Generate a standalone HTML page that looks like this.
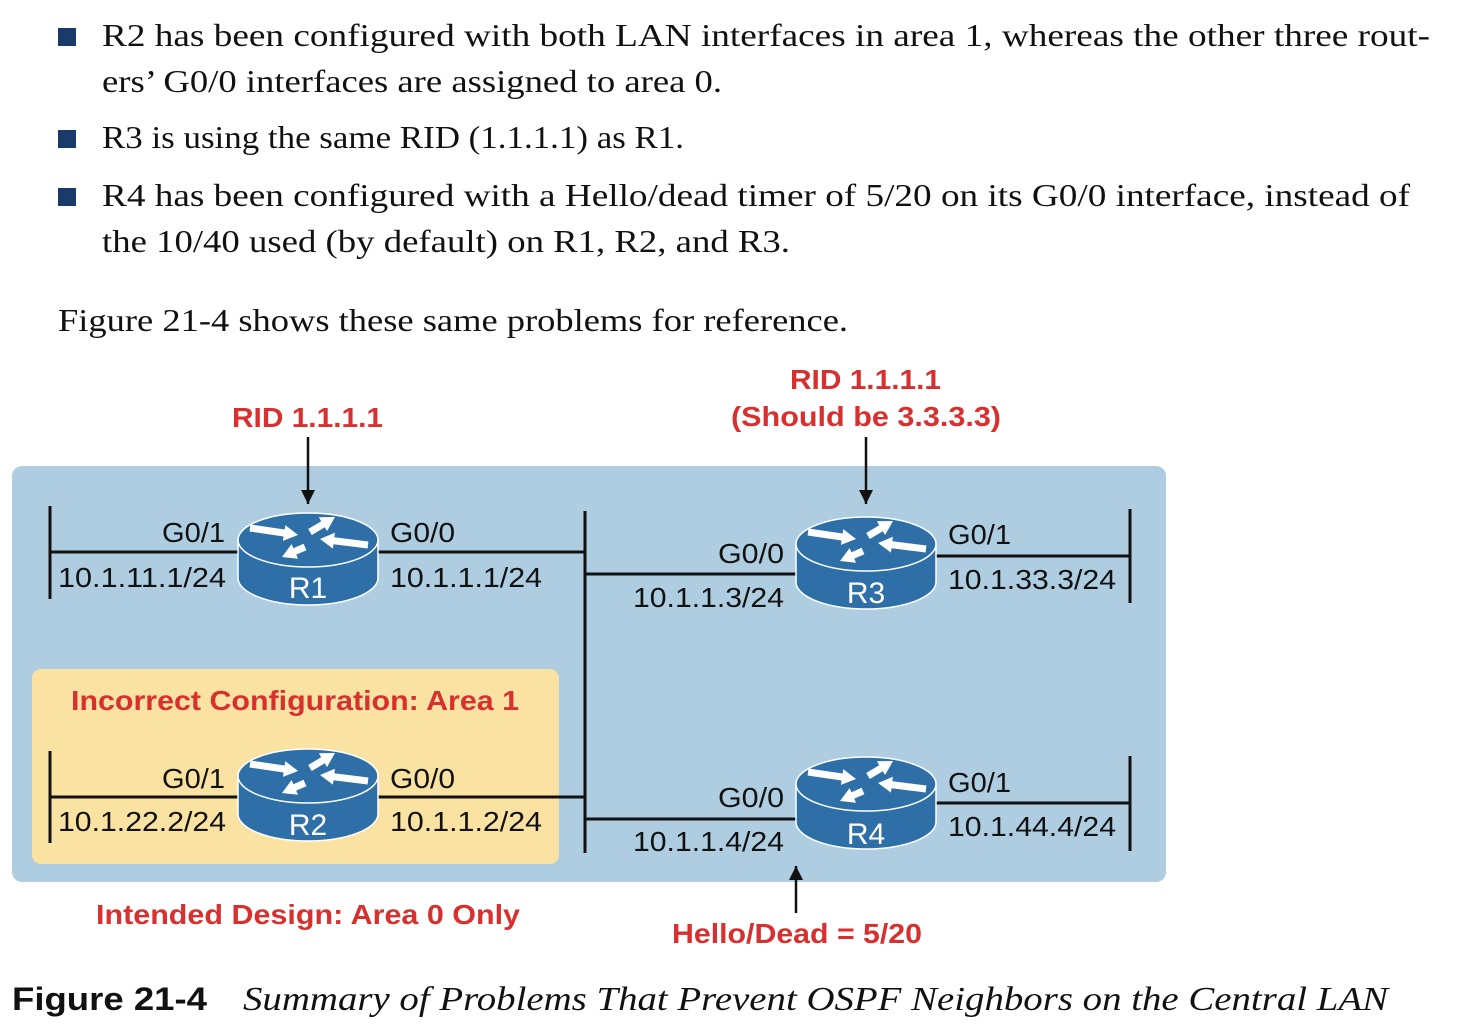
<!DOCTYPE html>
<html><head><meta charset="utf-8"><style>
html,body{margin:0;padding:0;background:#fff;}
svg{display:block}
.s{font-family:"Liberation Serif",serif;font-size:32px;fill:#111}
.a{font-family:"Liberation Sans",sans-serif;font-size:28px;fill:#111}
.r{font-family:"Liberation Sans",sans-serif;font-size:28px;font-weight:bold;fill:#d8302f}
.w{font-family:"Liberation Sans",sans-serif;font-size:30px;fill:#fff}
</style></head><body>
<svg width="1460" height="1034" viewBox="0 0 1460 1034" xmlns="http://www.w3.org/2000/svg">
<defs>
<g id="rt">
<path d="M-70,0 L-70,38 A70,27 0 0 0 70,38 L70,0 Z" fill="#2f6fa8" stroke="#fff" stroke-width="1.5"/>
<ellipse cx="0" cy="0" rx="70" ry="27" fill="#2f6fa8" stroke="#fff" stroke-width="1.5"/>
<polygon points="-58.5,-8.5 -24.4,-3.5 -25.1,0.9 -10,-5 -22.7,-14.9 -23.4,-10.5 -57.5,-15.5" fill="#fff"/>
<polygon points="3.8,-5 16.8,-12.8 19.1,-9 27,-23 10.9,-22.7 13.2,-18.8 0.2,-11" fill="#fff"/>
<polygon points="60.4,1.5 26.3,-2.8 26.9,-7.2 12,-1 24.9,8.6 25.5,4.2 59.6,8.5" fill="#fff"/>
<polygon points="-4.4,3.8 -14.6,8.2 -16.4,4.1 -26,17 -10,18.7 -11.8,14.6 -1.6,10.2" fill="#fff"/>
</g>
<marker id="ar" markerWidth="14" markerHeight="16" refX="14" refY="7" orient="auto" markerUnits="userSpaceOnUse" viewBox="0 0 14 14"><path d="M0,0 L14,7 L0,14 Z" fill="#111"/></marker>
</defs>
<rect x="58" y="28" width="18" height="18" fill="#1a3a6a"/>
<rect x="58" y="130" width="18" height="18" fill="#1a3a6a"/>
<rect x="58" y="188" width="18" height="18" fill="#1a3a6a"/>
<text class="s" x="102" y="46" textLength="1328" lengthAdjust="spacingAndGlyphs">R2 has been configured with both LAN interfaces in area 1, whereas the other three rout-</text>
<text class="s" x="102" y="92" textLength="620" lengthAdjust="spacingAndGlyphs">ers’ G0/0 interfaces are assigned to area 0.</text>
<text class="s" x="102" y="148" textLength="582" lengthAdjust="spacingAndGlyphs">R3 is using the same RID (1.1.1.1) as R1.</text>
<text class="s" x="102" y="206" textLength="1308" lengthAdjust="spacingAndGlyphs">R4 has been configured with a Hello/dead timer of 5/20 on its G0/0 interface, instead of</text>
<text class="s" x="102" y="252" textLength="688" lengthAdjust="spacingAndGlyphs">the 10/40 used (by default) on R1, R2, and R3.</text>
<text class="s" x="58" y="331" textLength="790" lengthAdjust="spacingAndGlyphs">Figure 21-4 shows these same problems for reference.</text>

<rect x="12" y="466" width="1154" height="416" rx="10" fill="#afcde1"/>
<rect x="32" y="669" width="527" height="195" rx="9" fill="#f9e2a2"/>

<g stroke="#111" stroke-width="3" fill="none">
<line x1="50" y1="552" x2="585" y2="552"/><line x1="50" y1="506" x2="50" y2="599"/>
<line x1="585" y1="511" x2="585" y2="853"/>
<line x1="585" y1="574" x2="866" y2="574"/><line x1="866" y1="556" x2="1130" y2="556"/><line x1="1130" y1="509" x2="1130" y2="603"/>
<line x1="50" y1="797" x2="585" y2="797"/><line x1="50" y1="751" x2="50" y2="843"/>
<line x1="585" y1="819" x2="866" y2="819"/><line x1="866" y1="803" x2="1130" y2="803"/><line x1="1130" y1="756" x2="1130" y2="851"/>
<line x1="308" y1="437" x2="308" y2="504" marker-end="url(#ar)" stroke-width="2.5"/>
<line x1="866" y1="437" x2="866" y2="504" marker-end="url(#ar)" stroke-width="2.5"/>
<line x1="796" y1="913" x2="796" y2="866" marker-end="url(#ar)" stroke-width="2.5"/>
</g>

<use href="#rt" x="308" y="540"/>
<use href="#rt" x="866" y="544"/>
<use href="#rt" x="308" y="776"/>
<use href="#rt" x="866" y="784"/>
<text class="w" x="308" y="598" text-anchor="middle">R1</text>
<text class="w" x="866" y="603" text-anchor="middle">R3</text>
<text class="w" x="308" y="835" text-anchor="middle">R2</text>
<text class="w" x="866" y="844" text-anchor="middle">R4</text>

<text class="a" x="162" y="542" textLength="63" lengthAdjust="spacingAndGlyphs">G0/1</text>
<text class="a" x="58" y="587" textLength="168" lengthAdjust="spacingAndGlyphs">10.1.11.1/24</text>
<text class="a" x="390" y="542" textLength="65" lengthAdjust="spacingAndGlyphs">G0/0</text>
<text class="a" x="390" y="587" textLength="152" lengthAdjust="spacingAndGlyphs">10.1.1.1/24</text>
<text class="a" x="718" y="563" textLength="66" lengthAdjust="spacingAndGlyphs">G0/0</text>
<text class="a" x="633" y="607" textLength="151" lengthAdjust="spacingAndGlyphs">10.1.1.3/24</text>
<text class="a" x="948" y="544" textLength="63" lengthAdjust="spacingAndGlyphs">G0/1</text>
<text class="a" x="948" y="589" textLength="168" lengthAdjust="spacingAndGlyphs">10.1.33.3/24</text>
<text class="a" x="162" y="788" textLength="63" lengthAdjust="spacingAndGlyphs">G0/1</text>
<text class="a" x="58" y="831" textLength="168" lengthAdjust="spacingAndGlyphs">10.1.22.2/24</text>
<text class="a" x="390" y="788" textLength="65" lengthAdjust="spacingAndGlyphs">G0/0</text>
<text class="a" x="390" y="831" textLength="152" lengthAdjust="spacingAndGlyphs">10.1.1.2/24</text>
<text class="a" x="718" y="807" textLength="66" lengthAdjust="spacingAndGlyphs">G0/0</text>
<text class="a" x="633" y="851" textLength="151" lengthAdjust="spacingAndGlyphs">10.1.1.4/24</text>
<text class="a" x="948" y="792" textLength="63" lengthAdjust="spacingAndGlyphs">G0/1</text>
<text class="a" x="948" y="836" textLength="168" lengthAdjust="spacingAndGlyphs">10.1.44.4/24</text>

<text class="r" x="232" y="427" textLength="151" lengthAdjust="spacingAndGlyphs">RID 1.1.1.1</text>
<text class="r" x="790" y="389" textLength="151" lengthAdjust="spacingAndGlyphs">RID 1.1.1.1</text>
<text class="r" x="731" y="426" textLength="270" lengthAdjust="spacingAndGlyphs">(Should be 3.3.3.3)</text>
<text class="r" x="71" y="710" textLength="448" lengthAdjust="spacingAndGlyphs">Incorrect Configuration: Area 1</text>
<text class="r" x="96" y="924" textLength="424" lengthAdjust="spacingAndGlyphs">Intended Design: Area 0 Only</text>
<text class="r" x="672" y="943" textLength="250" lengthAdjust="spacingAndGlyphs">Hello/Dead = 5/20</text>

<text x="12" y="1010" textLength="195" lengthAdjust="spacingAndGlyphs" style="font-family:'Liberation Sans',sans-serif;font-weight:bold;font-size:32px" fill="#111">Figure 21-4</text>
<text x="243" y="1010" textLength="1145" lengthAdjust="spacingAndGlyphs" style="font-family:'Liberation Serif',serif;font-style:italic;font-size:34px" fill="#111">Summary of Problems That Prevent OSPF Neighbors on the Central LAN</text>
</svg>
</body></html>
